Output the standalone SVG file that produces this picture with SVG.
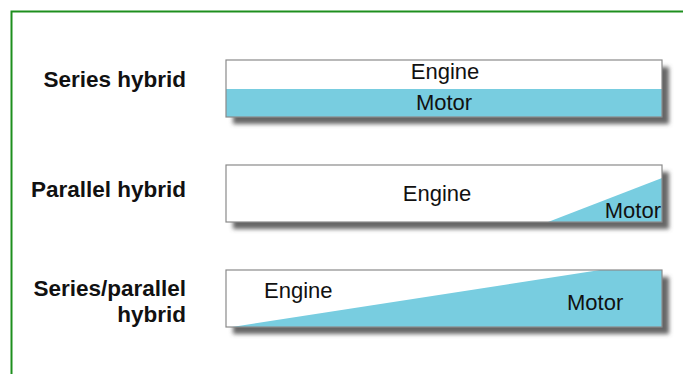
<svg xmlns="http://www.w3.org/2000/svg" width="683" height="374" viewBox="0 0 683 374">
<defs>
<filter id="sh" x="-5%" y="-30%" width="115%" height="170%"><feGaussianBlur stdDeviation="2"/></filter>
<style>
.lbl{font-family:"Liberation Sans",Arial,sans-serif;font-weight:bold;font-size:22.5px;fill:#111;text-anchor:end}
.t{font-family:"Liberation Sans",Arial,sans-serif;font-size:22px;fill:#111}
.box{fill:none;stroke:#8a8a8a;stroke-width:1.2}
.bg{fill:#fff}
.blue{fill:#78cde0}
.shadow{fill:#666;filter:url(#sh)}
</style>
</defs>
<rect width="683" height="374" fill="#fff"/>
<path d="M11.5,374 V11.5 H683" fill="none" stroke="#1e8f1e" stroke-width="2"/>
<g id="label-series">
<text class="lbl" x="186" y="87">Series hybrid</text>
</g>
<g id="label-parallel">
<text class="lbl" x="186" y="197">Parallel hybrid</text>
</g>
<g id="label-seriesparallel">
<text class="lbl" x="186" y="296">Series/parallel</text>
<text class="lbl" x="186" y="322">hybrid</text>
</g>
<g id="box-series">
<rect class="shadow" x="233" y="67" width="436" height="57"/>
<rect class="bg" x="226" y="60" width="436" height="57"/>
<rect class="blue" x="226" y="89" width="436" height="28"/>
<rect class="box" x="226" y="60" width="436" height="57"/>
<text class="t" x="445" y="79" text-anchor="middle">Engine</text>
<text class="t" x="444" y="110" text-anchor="middle">Motor</text>
</g>
<g id="box-parallel">
<rect class="shadow" x="233" y="172" width="436" height="57"/>
<rect class="bg" x="226" y="165" width="436" height="57"/>
<polygon class="blue" points="548,222 662,178 662,222"/>
<rect class="box" x="226" y="165" width="436" height="57"/>
<text class="t" x="437" y="201" text-anchor="middle">Engine</text>
<text class="t" x="661" y="218" text-anchor="end">Motor</text>
</g>
<g id="box-seriesparallel">
<rect class="shadow" x="233" y="277" width="436" height="57"/>
<rect class="bg" x="226" y="270" width="436" height="57"/>
<polygon class="blue" points="232,327 600,270 662,270 662,327"/>
<rect class="box" x="226" y="270" width="436" height="57"/>
<text class="t" x="264" y="298">Engine</text>
<text class="t" x="567" y="310">Motor</text>
</g>
<g id="connectors"/>
</svg>
